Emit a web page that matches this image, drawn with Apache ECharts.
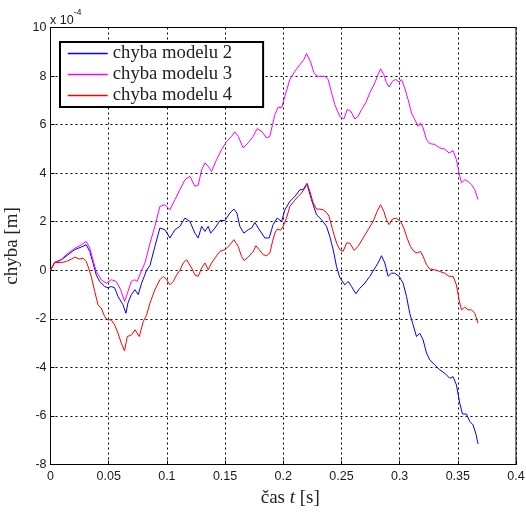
<!DOCTYPE html>
<html><head><meta charset="utf-8">
<script src="https://cdn.jsdelivr.net/npm/echarts@6/dist/echarts.min.js"></script>
<style>html,body{margin:0;padding:0;background:#fff}#c{width:526px;height:512px}</style>
</head><body><div id="c"></div>
<script>
// time values [s] and errors [x 1e-4 m]
const t2 = [0,.0036,.0093,.0150,.0208,.0265,.0307,.0337,.0365,.0393,.0423,.0465,.0494,.0522,.0551,.0580,.0623,.0648,.0666,.0694,.0726,.0754,.0783,.0826,.0855,.0897,.0940,.0983,.1026,.1069,.1112,.1155,.1198,.1241,.1269,.1299,.1327,.1355,.1376,.1413,.1456,.1499,.1542,.1576,.1602,.1627,.1662,.1699,.1728,.1756,.1785,.1814,.1842,.1879,.1913,.1948,.1986,.2014,.2057,.2100,.2143,.2171,.2203,.2243,.2286,.2329,.2372,.2400,.2429,.2458,.2486,.2529,.2558,.2587,.2624,.2658,.2701,.2744,.2787,.2815,.2844,.2873,.2901,.2930,.2959,.2996,.3030,.3059,.3087,.3116,.3145,.3173,.3202,.3231,.3259,.3302,.3345,.3388,.3431,.3459,.3488,.3517,.3540,.3574,.3603,.3631,.3654,.3674];
const e2 = [0,.32,.43,.64,.85,.96,1.05,.78,.31,-.19,-.46,-.67,-.72,-.67,-.72,-1.08,-1.42,-1.77,-1.34,-1.01,-.8,-1.0,-.53,0,.2,.98,1.74,1.67,1.33,1.67,1.81,2.15,2.01,1.53,1.33,1.81,1.6,1.81,1.53,1.74,2.05,2.05,2.36,2.52,2.36,1.81,1.53,1.67,1.74,1.97,1.74,1.53,1.33,1.33,1.88,2.15,2.01,2.49,2.84,3.04,3.32,3.32,3.57,2.9,2.29,2.08,1.81,1.39,.85,.15,-.3,-.6,-.46,-.67,-.97,-.74,-.53,-.25,.09,.3,.6,.3,-.25,-.12,-.12,-.25,-.53,-1.08,-1.77,-2.25,-2.73,-2.59,-2.87,-3.41,-3.69,-3.9,-4.1,-4.24,-4.45,-4.38,-4.72,-5.48,-5.92,-5.92,-6.23,-6.37,-6.71,-7.15];

const t3 = [0,.0036,.0093,.0150,.0208,.0265,.0307,.0337,.0365,.0393,.0436,.0479,.0522,.0565,.0603,.0637,.0666,.0694,.0723,.0745,.0783,.0812,.0855,.0897,.0940,.0983,.1026,.1069,.1112,.1155,.1198,.1241,.1269,.1299,.1327,.1355,.1384,.1427,.1470,.1513,.1556,.1584,.1613,.1656,.1699,.1742,.1776,.1814,.1857,.1885,.1908,.1928,.1956,.1986,.2014,.2057,.2100,.2143,.2177,.2200,.2235,.2263,.2289,.2315,.2357,.2386,.2415,.2443,.2486,.2521,.2549,.2581,.2615,.2643,.2673,.2709,.2744,.2787,.2815,.2836,.2864,.2887,.2910,.2939,.2967,.2996,.3016,.3044,.3073,.3102,.3130,.3159,.3179,.3202,.3231,.3259,.3302,.3345,.3388,.3425,.3459,.3488,.3511,.3531,.3560,.3588,.3617,.3646,.3674];
const e3 = [0,.32,.45,.7,.9,1.05,1.19,.92,.43,-.05,-.39,-.53,-.39,-.46,-.8,-1.29,-.87,-.46,-.39,-.46,0,.3,1.12,1.81,2.63,2.7,2.49,2.91,3.32,3.73,3.87,3.46,3.5,4.14,4.42,4.28,4.07,4.56,4.97,5.3,5.52,5.7,5.52,5.04,5.25,5.52,5.83,5.73,5.45,5.52,6.0,6.41,6.72,6.69,7.17,7.86,8.2,8.47,8.68,8.93,8.58,8.15,7.99,7.99,7.99,7.86,7.31,6.82,6.34,6.23,6.62,6.55,6.23,6.34,6.62,6.9,7.31,7.72,8.06,8.3,8.06,7.72,7.55,7.79,7.86,7.75,7.86,7.51,7.03,6.48,6.21,5.93,6.07,5.86,5.38,5.22,5.18,5.04,4.99,4.83,4.93,4.56,4.01,3.6,3.73,3.66,3.53,3.32,2.91];

const t4 = [0,.0036,.0093,.0136,.0179,.0208,.0251,.0279,.0307,.0328,.0350,.0380,.0408,.0436,.0465,.0488,.0522,.0551,.0580,.0608,.0636,.0660,.0697,.0726,.0763,.0797,.0826,.0855,.0897,.0940,.0969,.0998,.1026,.1055,.1084,.1112,.1140,.1170,.1213,.1241,.1269,.1299,.1327,.1355,.1384,.1413,.1456,.1499,.1542,.1576,.1613,.1642,.1664,.1699,.1742,.1765,.1793,.1828,.1857,.1885,.1908,.1928,.1948,.1977,.1999,.2028,.2057,.2091,.2128,.2157,.2186,.2205,.2229,.2257,.2286,.2315,.2343,.2372,.2394,.2424,.2458,.2486,.2515,.2544,.2572,.2609,.2643,.2686,.2729,.2772,.2807,.2836,.2864,.2887,.2910,.2939,.2973,.3008,.3036,.3064,.3093,.3122,.3150,.3179,.3202,.3231,.3259,.3302,.3345,.3388,.3425,.3459,.3488,.3511,.3531,.3560,.3588,.3617,.3646,.3674];
const e4 = [0,.32,.32,.36,.46,.54,.46,.5,.36,.09,-.25,-.87,-1.42,-1.56,-1.9,-2.04,-2.04,-2.25,-2.59,-3.0,-3.32,-2.73,-2.66,-2.45,-2.73,-2.11,-1.84,-1.35,-.8,-.39,-.25,-.39,-.6,-.46,-.19,0,.3,.43,.09,-.19,-.25,.09,.3,.02,.3,.5,.78,.85,1.05,1.26,.98,.57,.4,.54,.78,1.01,.85,.64,.6,.71,1.19,1.53,1.7,1.65,1.81,2.15,2.63,2.84,3.04,3.18,3.39,3.57,3.25,2.77,2.52,2.52,2.49,2.38,2.22,1.67,1.12,.85,.78,1.12,1.12,.82,.98,1.33,1.67,2.01,2.43,2.7,2.43,2.08,1.88,2.11,2.15,2.01,1.74,1.33,.98,.78,.71,.78,.57,.23,.05,.02,-.05,-.12,-.25,-.25,-.6,-1.22,-1.63,-1.52,-1.63,-1.63,-1.77,-2.18];

const seriesNames = ['chyba modelu 2','chyba modelu 3','chyba modelu 4'];
const seriesColors = ['#0000ff','#ff00ff','#ff0000'];
const yTicks = {min:-8, max:10, step:2};
const xTicks = {min:0, max:0.4, step:0.05};

const zip = (t,e) => t.map((v,i)=>[v,e[i]]);
const grid = {left:50.5, right:10, top:27.5, bottom:47.5, show:true, borderColor:'#000', borderWidth:1, containLabel:false, outerBoundsMode:'none'};
const labelFont = {fontFamily:'Liberation Sans, Arial, sans-serif', fontSize:12.5, color:'#1a1a1a'};
const serif = 'Liberation Serif, serif';
const dashed = {color:'#000', type:[2,3], width:1};

const chart = echarts.init(document.getElementById('c'), null, {renderer:'canvas'});
chart.setOption({
  animation:false,
  backgroundColor:'#fff',
  color: seriesColors,
  grid: grid,
  legend: {
    data: seriesNames,
    orient:'vertical', left:60, top:42,
    backgroundColor:'#fff', borderColor:'#000', borderWidth:2, borderRadius:0,
    padding:[1,31,1,7], itemGap:0, itemWidth:40, itemHeight:14,
    itemStyle:{color:'rgba(0,0,0,0)', borderWidth:0},
    lineStyle:{width:1.5},
    textStyle:{fontFamily:serif, fontSize:18.7, color:'#222', lineHeight:21}
  },
  xAxis: {
    type:'value', min:xTicks.min, max:xTicks.max, interval:xTicks.step,
    name:'{a|čas }{i|t}{a| [s]}', nameLocation:'middle', nameGap:22,
    nameTextStyle:{padding:[0,0,0,14], rich:{a:{fontFamily:serif, fontSize:19, color:'#222'}, i:{fontFamily:serif, fontStyle:'italic', fontSize:19, color:'#222'}}},
    axisLine:{show:true, onZero:false, lineStyle:{color:'#000'}},
    axisTick:{show:true, inside:true, length:4, lineStyle:{color:'#000'}},
    axisLabel:Object.assign({margin:6, formatter:v=>String(Number(v.toFixed(2)))}, labelFont),
    splitLine:{show:true, lineStyle:dashed}
  },
  yAxis: {
    type:'value', min:yTicks.min, max:yTicks.max, interval:yTicks.step,
    name:'chyba [m]', nameLocation:'middle', nameGap:25,
    nameTextStyle:{fontFamily:serif, fontSize:19, color:'#222'},
    axisLine:{show:true, onZero:false, lineStyle:{color:'#000'}},
    axisTick:{show:true, inside:true, length:4, lineStyle:{color:'#000'}},
    axisLabel:Object.assign({margin:4}, labelFont),
    splitLine:{show:true, lineStyle:dashed}
  },
  graphic: [{
    type:'text', left:50, top:8,
    style:{text:'{a|x 10}{s|-4}', rich:{a:{fontFamily:'Liberation Sans, Arial, sans-serif', fontSize:12.5, fill:'#1a1a1a', padding:[6,0,0,0]}, s:{fontFamily:'Liberation Sans, Arial, sans-serif', fontSize:9, fill:'#1a1a1a', verticalAlign:'top'}}}
  }],
  series: seriesNames.map((n,i)=>({
    name:n, type:'line', data:zip([t2,t3,t4][i],[e2,e3,e4][i]), symbol:'none',
    color:seriesColors[i], lineStyle:{width:1}, z:2+i
  }))
});
</script></body></html>
